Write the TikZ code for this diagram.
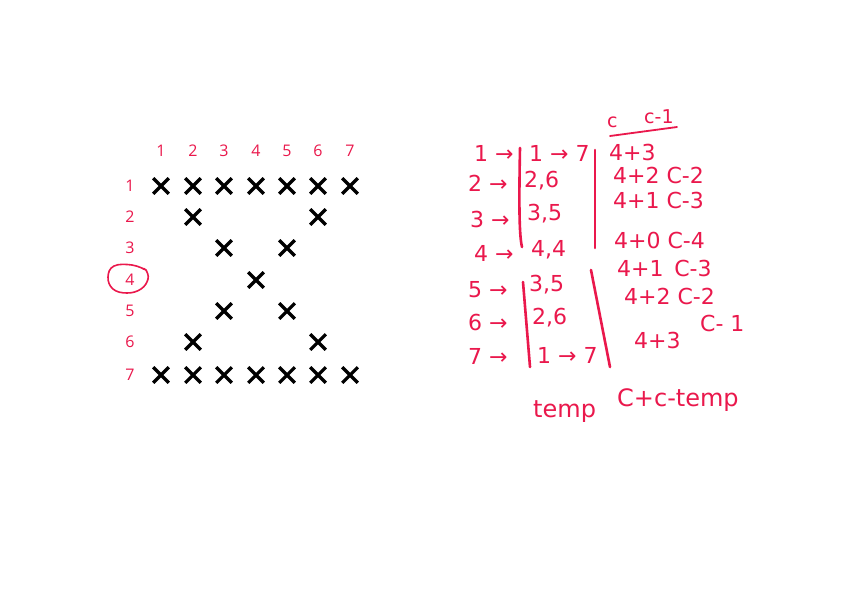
\documentclass[tikz,border=0pt]{standalone}
\usepackage{fontspec}
\setmainfont{DejaVu Sans}
\newfontfamily\labfont{Open Sans}
\definecolor{hand}{RGB}{234,24,76}
\begin{document}
\begin{tikzpicture}[x=1pt,y=-1pt]
\useasboundingbox[fill=white] (0,0) rectangle (842,595);
\tikzset{
  lbl/.style={text=hand,font=\labfont\fontsize{16}{16}\selectfont,inner sep=0},
  hw/.style={text=hand,font=\fontsize{22}{22}\selectfont,inner sep=0,anchor=west},
  hwl/.style={text=hand,font=\fontsize{24}{24}\selectfont,inner sep=0,anchor=west},
  hws/.style={text=hand,font=\fontsize{19}{19}\selectfont,inner sep=0,anchor=west},
  stroke/.style={draw=hand,line width=2.6pt,line cap=round},
  xm/.pic={\draw[line width=3.2pt] (-7.8,-7.8)--(7.8,7.8) (-7.8,7.8)--(7.8,-7.8);}
}
% column and row labels
\foreach \i/\x in {1/161,2/193,3/224,4/256,5/287,6/318,7/350}
  \node[lbl] (c\i) at (\x,151) {\i};
\foreach \i/\y in {1/186,2/217,3/248,4/280,5/311,6/342,7/375}
  \node[lbl] (r\i) at (130,\y) {\i};
% X marks
\foreach \x in {161,193,224,256,287,318,350} {
  \pic at (\x,186) {xm};
  \pic at (\x,375) {xm};
}
\foreach \x/\y in {193/217,318/217,224/248,287/248,256/280,224/311,287/311,193/342,318/342}
  \pic at (\x,\y) {xm};
% circle around row 4
\draw[hand,line width=1.6pt,line cap=round] plot[smooth,tension=0.7] coordinates
  {(146,270) (132,265) (114,266) (108,277) (113,289) (127,293) (141,289) (148,279) (146,270) (143,269)};
% handwritten notes: left column
\node[hw] (a1) at (474,153) {1 →};
\node[hw] (a2) at (468,183) {2 →};
\node[hw] (a3) at (470,219) {3 →};
\node[hw] (a4) at (474,253) {4 →};
\node[hw] (a5) at (468,290) {5 →};
\node[hw] (a6) at (468,322) {6 →};
\node[hw] (a7) at (468,356) {7 →};
\node[hw] (b1) at (529,153) {1 → 7};
\node[hw] (b2) at (524,181) {2,6};
\node[hw] (b3) at (527,214) {3,5};
\node[hw] (b4) at (531,250) {4,4};
\node[hw] (b5) at (529,285) {3,5};
\node[hw] (b6) at (532,318) {2,6};
\node[hw] (b7) at (537,355) {1 → 7};
% vertical strokes
\coordinate (l1a) at (520,148); \coordinate (l1b) at (522,247);
\coordinate (l2a) at (523,282); \coordinate (l2b) at (530,367);
\coordinate (l3a) at (595,150); \coordinate (l3b) at (595,248);
\coordinate (l4a) at (591,270); \coordinate (l4b) at (610,367);
\draw[stroke] (l1a) .. controls (519,200) and (519,235) .. (l1b);
\draw[stroke] (l2a) -- (l2b);
\draw[stroke] (l3a) -- (l3b);
\draw[stroke] (l4a) -- (l4b);
% right column
\node[hws] (h1) at (607,122) {c};
\node[hws] (h2) at (644,117) {c-1};
\coordinate (u1) at (610,136); \coordinate (u2) at (677,127);
\draw[stroke,line width=1.8pt] (u1) -- (u2);
\node[hw] (d1) at (609,152) {4+3};
\node[hw] (d2) at (613,175) {4+2 C-2};
\node[hw] (d3) at (613,200) {4+1 C-3};
\node[hw] (d4) at (614,240) {4+0 C-4};
\node[hw] (d5) at (617,268) {4+1 \,C-3};
\node[hw] (d6) at (624,296) {4+2 C-2};
\node[hw] (d7) at (634,340) {4+3};
\node[hw] (d8) at (700,323) {C- 1};
% bottom
\node[hwl] (t1) at (533,412) {temp};
\node[hwl] (t2) at (617,400) {C+c-temp};
\end{tikzpicture}
\end{document}
